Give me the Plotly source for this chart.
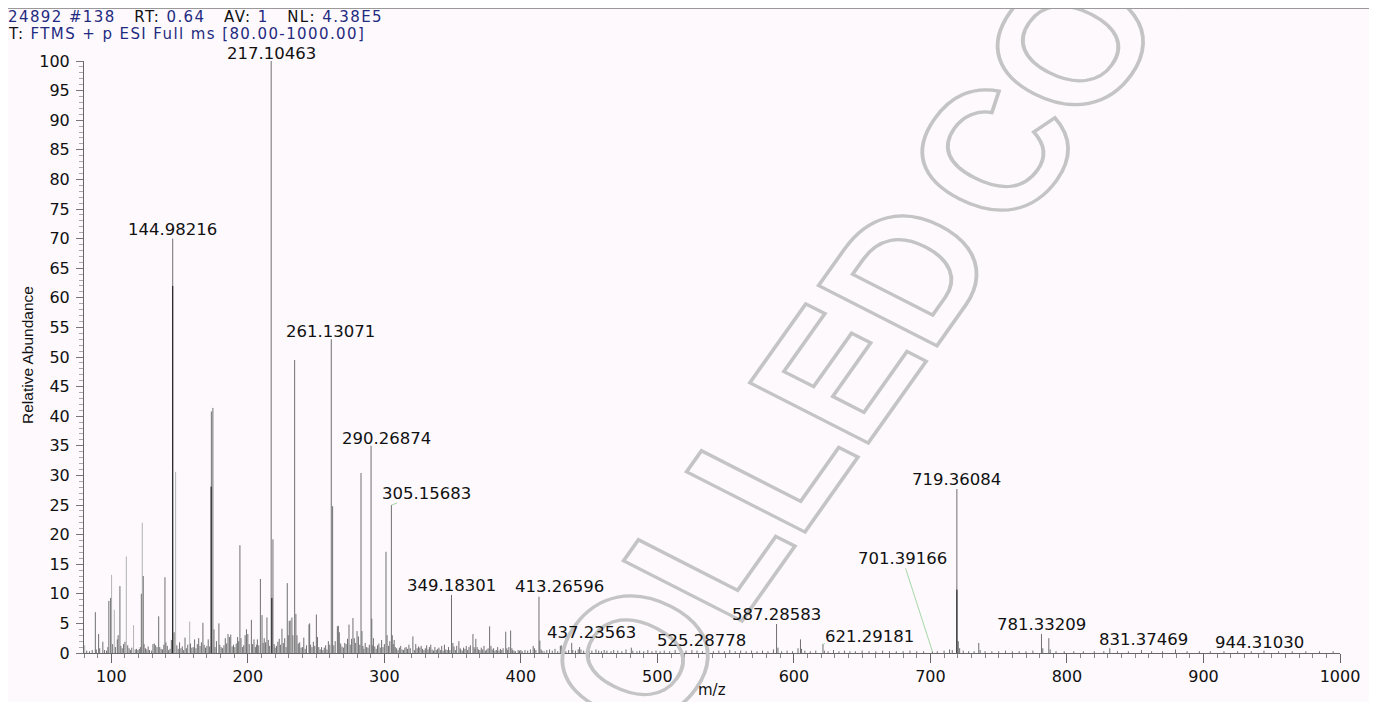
import base64
import plotly.graph_objects as go

# ---------------- data ----------------
labeled_mz = [144.98216, 217.10463, 261.13071, 290.26874, 305.15683, 349.18301,
              413.26596, 437.23563, 525.28778, 587.28583, 621.29181, 701.39166,
              719.36084, 781.33209, 831.37469, 944.31030]
labeled_int = [70.0, 100.0, 53.0, 35.0, 25.0, 9.8, 9.5, 1.7, 0.5, 4.9, 1.5, 0.3,
               27.7, 3.2, 0.8, 0.4]
labeled_text = ["144.98216", "217.10463", "261.13071", "290.26874", "305.15683",
                "349.18301", "413.26596", "437.23563", "525.28778", "587.28583",
                "621.29181", "701.39166", "719.36084", "781.33209", "831.37469",
                "944.31030"]

gray_peaks = [
    (82.0, 0.4), (84.0, 0.3), (86.0, 0.5), (88.3, 6.9), (89.0, 0.6), (90.7, 3.2), (91.5, 0.8),
    (93.8, 1.9), (95.0, 0.5), (96.5, 0.4), (97.5, 1.0), (98.2, 8.8), (99.5, 9.3), (101.0, 1.5),
    (103.0, 1.0), (104.4, 2.3), (105.0, 3.0), (106.3, 11.3), (107.0, 1.2), (108.0, 0.8),
    (109.0, 1.5), (110.0, 1.9), (112.0, 1.3), (113.0, 0.8), (114.0, 0.5), (115.0, 0.9),
    (117.5, 0.6), (118.5, 0.7), (119.5, 0.5), (120.5, 0.7), (121.3, 1.0), (122.0, 10.0),
    (123.4, 13.0), (124.0, 1.5), (125.0, 0.8), (126.0, 0.6), (127.0, 1.1), (128.0, 0.5),
    (129.5, 0.4),
    (130.5, 1.5), (131.5, 1.6), (132.5, 1.3), (133.5, 1.0), (134.7, 6.2), (135.5, 1.0),
    (136.5, 0.7), (137.5, 0.6), (138.5, 1.4), (139.3, 12.8), (140.0, 1.8), (141.0, 1.2),
    (142.0, 0.5), (143.0, 0.7), (144.0, 2.2), (146.0, 3.5), (148.0, 1.3), (149.0, 0.7),
    (150.0, 1.8), (151.0, 0.8), (152.0, 1.1), (153.0, 0.5), (154.0, 2.6), (155.0, 0.8),
    (156.0, 1.4), (158.0, 1.6), (159.0, 0.9), (160.0, 1.0), (161.0, 2.3), (162.0, 0.8),
    (163.0, 1.5), (164.0, 2.5), (165.0, 1.2), (166.0, 1.8), (167.1, 5.1), (168.0, 1.4),
    (169.0, 0.9), (170.0, 1.2), (171.0, 2.3), (172.0, 1.1), (173.3, 40.8), (174.4, 41.4),
    (175.2, 4.0), (176.0, 1.0), (177.0, 2.0), (178.8, 5.0), (179.5, 1.4), (180.5, 1.0),
    (181.5, 0.8), (182.5, 1.3), (183.5, 2.5), (184.5, 1.6), (185.5, 3.2), (186.5, 2.7),
    (187.5, 3.1), (188.5, 1.1), (189.5, 1.4), (190.5, 1.0), (191.5, 1.6), (192.5, 2.7),
    (193.3, 2.0), (194.2, 18.2), (195.0, 2.5), (196.0, 1.0), (197.0, 1.3), (198.0, 3.0),
    (199.0, 4.0), (200.0, 3.2), (201.0, 1.5), (202.6, 5.6), (203.5, 1.5), (204.5, 2.3),
    (205.5, 1.0), (206.3, 1.4), (207.0, 2.3), (208.0, 1.3), (209.2, 12.5), (210.4, 6.4),
    (211.2, 1.7), (212.0, 2.5), (213.0, 1.8), (214.0, 6.0), (215.0, 2.2), (216.0, 1.2),
    (218.4, 19.2), (219.3, 1.5), (220.0, 0.9), (221.0, 1.2), (222.0, 1.9), (223.0, 2.4),
    (224.0, 1.4), (225.0, 4.1), (226.0, 1.7), (227.0, 2.5), (228.0, 1.0), (228.9, 11.8),
    (229.6, 3.0), (230.3, 5.4), (231.0, 5.5), (232.3, 6.0), (233.0, 3.0), (234.3, 49.5),
    (235.2, 6.6), (236.0, 3.0), (237.0, 1.6), (238.0, 1.8), (239.0, 0.9), (240.0, 1.0),
    (241.0, 2.6), (242.0, 0.7), (243.0, 1.3), (244.8, 4.8), (245.3, 5.0), (246.0, 1.4),
    (247.0, 1.0), (248.0, 1.9), (249.0, 1.2), (250.2, 6.5), (251.0, 2.7), (252.0, 1.0),
    (253.0, 0.6), (254.0, 1.0), (255.0, 0.5), (256.0, 0.9), (257.0, 1.3), (258.0, 0.6),
    (259.0, 2.0), (260.0, 1.4), (262.1, 24.8), (263.0, 1.3), (264.0, 2.0), (265.6, 4.5),
    (266.3, 4.6), (267.0, 3.5), (268.0, 1.6), (269.0, 1.1), (270.0, 0.9), (271.0, 1.7),
    (272.0, 1.5), (273.0, 2.4), (274.1, 4.8), (275.0, 1.4), (276.0, 2.4), (277.0, 5.9),
    (278.0, 2.5), (279.0, 1.7), (280.0, 3.7), (281.0, 2.8), (282.0, 1.4), (282.9, 30.4),
    (283.6, 3.7), (284.3, 1.2), (285.0, 0.7), (286.0, 1.7), (287.0, 1.0), (288.0, 0.9),
    (289.0, 1.4), (290.8, 5.8), (291.5, 1.3), (292.0, 2.5), (293.0, 1.1), (294.0, 0.7),
    (295.0, 1.3), (296.0, 1.6), (297.0, 0.9), (298.0, 2.2), (299.0, 1.0), (300.0, 1.5),
    (301.2, 17.1), (302.0, 3.0), (303.0, 1.2), (304.0, 2.0), (305.8, 3.0), (306.5, 1.5),
    (307.2, 2.2), (308.0, 1.0), (309.0, 0.8), (310.0, 0.5), (311.0, 0.9), (312.0, 1.2),
    (313.0, 0.6), (314.0, 0.5), (315.0, 0.9), (316.0, 1.0), (317.0, 0.7), (318.0, 1.4),
    (319.0, 0.8), (320.9, 2.8), (322.0, 0.5), (323.0, 1.5), (324.0, 0.8), (325.0, 1.1),
    (326.0, 0.9), (327.0, 1.2), (328.0, 0.7), (329.0, 0.5),
    (330.0, 0.8), (331.0, 1.3), (332.0, 0.6), (333.0, 1.0), (334.0, 1.4), (335.0, 0.6),
    (336.0, 0.4), (337.0, 1.0), (338.0, 0.5), (339.0, 0.7), (340.0, 0.9), (341.0, 0.5),
    (342.0, 1.2), (343.0, 0.4), (344.0, 1.4), (345.0, 0.6), (346.0, 0.5), (347.0, 1.0),
    (348.0, 0.5), (350.2, 1.7), (351.0, 1.1), (352.0, 0.5), (353.0, 1.2), (354.6, 2.0),
    (355.5, 0.8), (356.0, 0.6), (357.0, 0.4), (358.0, 0.9), (359.0, 0.7), (360.0, 1.2),
    (361.0, 0.5), (362.0, 1.0), (363.0, 1.3), (364.9, 3.2), (365.7, 1.0), (366.4, 0.7),
    (367.0, 2.4), (368.0, 1.0), (369.0, 0.6), (370.0, 0.5), (371.0, 0.9), (372.0, 0.6),
    (373.0, 1.2), (374.0, 0.4), (375.0, 0.6), (376.0, 0.8), (377.1, 4.5), (378.1, 1.2),
    (379.0, 0.6), (380.0, 0.8), (381.0, 0.4), (382.0, 0.5), (383.0, 1.0), (384.0, 0.4),
    (385.0, 0.7), (386.0, 0.5), (387.0, 0.8), (388.9, 3.6), (389.7, 0.8), (390.4, 0.5),
    (391.2, 1.0), (392.5, 3.8), (393.4, 0.8), (394.0, 0.5), (395.0, 0.4), (396.0, 0.3),
    (398.0, 0.5), (399.0, 0.4), (400.0, 0.5), (401.0, 0.3), (403.0, 0.5), (405.0, 0.4),
    (407.0, 0.6), (409.0, 1.2), (410.0, 0.8), (411.0, 0.5), (413.9, 2.1), (414.8, 0.6),
    (415.5, 0.4), (417.0, 0.3), (419.0, 0.5), (421.0, 0.6), (423.0, 0.4), (425.0, 0.7),
    (427.0, 0.3), (428.9, 1.2), (429.6, 1.3), (431.0, 0.4), (433.0, 0.3), (435.0, 0.5),
    (438.0, 0.5), (440.0, 0.4), (442.0, 0.6), (443.0, 1.0), (444.0, 0.6), (446.0, 0.4),
    (448.0, 0.3), (450.0, 0.5), (452.0, 0.4), (455.0, 0.6), (457.0, 0.4), (459.0, 0.3),
    (461.0, 0.5), (463.0, 0.4), (466.0, 0.3), (468.0, 0.5), (471.0, 0.4), (474.0, 0.3),
    (477.0, 0.6), (480.9, 0.9), (482.0, 0.4), (485.0, 0.3), (487.0, 0.4), (490.0, 0.3),
    (493.0, 0.5), (496.0, 0.3), (499.0, 0.4),
    (502.0, 0.3), (505.0, 0.4), (509.0, 0.3), (513.0, 0.5), (517.0, 0.3), (521.0, 0.4),
    (529.0, 0.4), (533.0, 0.3), (537.0, 0.5), (541.0, 0.3), (545.0, 0.4), (549.0, 0.3),
    (553.0, 0.5), (557.0, 0.3), (561.0, 0.4), (565.0, 0.3), (569.0, 0.4), (573.0, 0.3),
    (577.0, 0.4), (581.0, 0.3), (585.0, 0.6), (588.3, 0.9), (591.0, 0.3), (595.0, 0.4),
    (599.0, 0.3), (603.0, 0.8), (604.8, 2.3), (605.6, 0.7), (608.0, 0.4), (612.0, 0.3),
    (616.0, 0.4), (622.3, 0.4), (625.0, 0.3), (629.0, 0.5), (633.0, 0.3), (637.0, 0.4),
    (641.0, 0.3), (645.0, 0.3), (650.0, 0.4), (655.0, 0.3), (660.0, 0.3), (665.0, 0.4),
    (670.0, 0.3), (675.0, 0.3), (680.0, 0.3), (685.0, 0.4), (690.0, 0.3), (695.0, 0.3),
    (705.0, 0.3), (710.0, 0.4), (714.0, 0.6), (716.0, 0.5), (720.4, 2.0), (721.4, 0.8),
    (724.0, 0.4), (728.0, 0.3), (732.0, 0.3), (735.4, 1.7), (736.4, 0.5), (740.0, 0.3),
    (745.0, 0.3), (750.0, 0.3), (755.0, 0.4), (760.0, 0.3), (765.0, 0.3), (770.0, 0.3),
    (775.0, 0.4), (782.3, 0.8), (786.7, 2.5), (787.7, 0.6), (792.0, 0.3), (798.0, 0.3),
    (805.0, 0.3), (812.0, 0.3), (820.0, 0.3), (827.0, 0.3), (837.0, 0.3), (845.0, 0.3),
    (854.6, 0.5), (862.0, 0.3), (870.0, 0.3), (879.5, 0.6), (888.0, 0.3), (897.0, 0.3),
    (905.0, 0.3), (915.0, 0.3), (925.0, 0.3), (935.0, 0.3), (955.0, 0.3), (965.0, 0.3),
    (975.0, 0.3), (985.0, 0.3), (995.0, 0.3),
]
light_peaks = [(80.5, 1.3), (100.2, 13.2), (102.2, 7.3), (111.0, 16.3), (116.3, 4.7),
               (122.7, 22.0), (147.1, 30.6), (157.4, 5.3)]
black_peaks = [(144.99, 62.0), (173.1, 28.1), (217.6, 9.3), (719.4, 10.7)]

x_tickvals = list(range(100, 1001, 100))
y_tickvals = list(range(0, 101, 5))

BLUE = "#1f2b80"
header_line1 = (f"<span style='color:{BLUE}'>24892 #138</span>&nbsp;&nbsp;&nbsp;RT: "
                f"<span style='color:{BLUE}'>0.64</span>&nbsp;&nbsp;&nbsp;AV: "
                f"<span style='color:{BLUE}'>1</span>&nbsp;&nbsp;&nbsp;NL: "
                f"<span style='color:{BLUE}'>4.38E5</span>")
header_line2 = f"T: <span style='color:{BLUE}'>FTMS + p ESI Full ms [80.00-1000.00]</span>"

# ---------------- layout geometry / styles ----------------
OFF = 8                      # page offset of the figure inside the window
W, H = 1377 - OFF, 702 - OFF
ML, MR, MT, MB = 76, 37, 53, 49
PW, PH = W - ML - MR, H - MT - MB
BG = "#fdf9fd"
FONT = "DejaVu Sans"

# label placement (pixels): (dx, dy, leader)
label_offsets = {
    "144.98216": (0, 9, False), "217.10463": (0, 8, False), "261.13071": (-1, 8, False),
    "290.26874": (15, 7, False), "305.15683": (35, -12, True), "349.18301": (0, 9, False),
    "413.26596": (21, -10, True), "437.23563": (20, -10, True), "525.28778": (10, -10, True),
    "587.28583": (0, 9, False), "621.29181": (47, -8, True), "701.39166": (-30, -93, True),
    "719.36084": (0, 10, False), "781.33209": (0, 10, False), "831.37469": (34, -9, True),
    "944.31030": (-4, 8, False),
}


def stick_xy(peaks):
    xs, ys = [], []
    for mz, ab in peaks:
        xs += [mz, mz, None]
        ys += [0, ab, None]
    return xs, ys


fig = go.Figure()
main_peaks = list(zip(labeled_mz, labeled_int)) + gray_peaks
for peaks, color in [(light_peaks, "#b3b3b3"), (main_peaks, "#707070"), (black_peaks, "#111111")]:
    xs, ys = stick_xy(peaks)
    fig.add_trace(go.Scatter(x=xs, y=ys, mode="lines", line=dict(color=color, width=1),
                             hoverinfo="skip", showlegend=False, cliponaxis=False))

annotations = []
for mz, ab, txt in zip(labeled_mz, labeled_int, labeled_text):
    dx, dy, leader = label_offsets[txt]
    if leader:
        annotations.append(dict(x=mz, y=ab, xref="x", yref="y", text=txt, showarrow=True,
                                ax=dx, ay=dy, arrowhead=0, arrowwidth=1, arrowcolor="#a6d8a6",
                                standoff=0, startstandoff=0, borderpad=0,
                                font=dict(family=FONT, size=16.5, color="#111111")))
    else:
        annotations.append(dict(x=mz, y=ab, xref="x", yref="y", text=txt, showarrow=False,
                                xanchor="center", yanchor="middle", xshift=dx, yshift=dy,
                                borderpad=0,
                                font=dict(family=FONT, size=16.5, color="#111111")))


def pxx(p):
    """window pixel x -> paper x"""
    return (p - OFF - ML) / PW


def pxy(p):
    """window pixel y -> paper y"""
    return (H - MB - (p - OFF)) / PH


SPACED = "<span style='letter-spacing:1.4px'>{}</span>"
annotations.append(dict(x=pxx(7), y=pxy(17), xref="paper", yref="paper",
                        text=SPACED.format(header_line1), borderpad=0,
                        showarrow=False, xanchor="left", yanchor="middle",
                        font=dict(family=FONT, size=15, color="#111111")))
annotations.append(dict(x=pxx(7), y=pxy(34.5), xref="paper", yref="paper",
                        text=SPACED.format(header_line2), borderpad=0,
                        showarrow=False, xanchor="left", yanchor="middle",
                        font=dict(family=FONT, size=15, color="#111111")))
annotations.append(dict(x=pxx(27), y=pxy(355), xref="paper", yref="paper",
                        text="Relative Abundance", textangle=-90, showarrow=False,
                        xanchor="center", yanchor="middle",
                        font=dict(family="Liberation Sans", size=15.5, color="#111111")))
annotations.append(dict(x=pxx(712), y=pxy(690), xref="paper", yref="paper",
                        text="m/z", showarrow=False, xanchor="center", yanchor="middle",
                        font=dict(family=FONT, size=15, color="#111111")))

# watermark as outlined svg text (coordinates in window pixels through the viewBox)
svg = (f"<svg xmlns='http://www.w3.org/2000/svg' width='{W}' height='{H}' "
       f"viewBox='{OFF} {OFF} {W} {H}'>"
       "<text transform='translate(738 512) scale(1.18 1) rotate(-59)' text-anchor='middle' "
       "dominant-baseline='central' font-family='Liberation Sans, Arial, sans-serif' "
       "font-weight='bold' font-size='170' word-spacing='-30' fill='none' stroke='#c4c4c4' "
       "stroke-width='3.2'>CONTROLLED COPY</text></svg>")
src = "data:image/svg+xml;base64," + base64.b64encode(svg.encode()).decode()

fig.update_layout(
    width=W, height=H,
    margin=dict(l=ML, r=MR, t=MT, b=MB, autoexpand=False),
    paper_bgcolor=BG, plot_bgcolor=BG,
    showlegend=False,
    annotations=annotations,
    images=[dict(source=src, xref="paper", yref="paper", x=-ML / PW, y=1 + MT / PH,
                 sizex=W / PW, sizey=H / PH, xanchor="left", yanchor="top",
                 sizing="stretch", layer="above")],
    shapes=[dict(type="line", xref="paper", yref="paper", x0=-ML / PW, x1=(W - ML) / PW,
                 y0=1 + (MT - 0.5) / PH, y1=1 + (MT - 0.5) / PH,
                 line=dict(color="#9a9a9a", width=1))],
    xaxis=dict(range=[80, 1000], tickmode="array", tickvals=x_tickvals, automargin=False,
               ticks="outside", ticklen=9, tickcolor="#666666", tickwidth=1,
               showline=True, linecolor="#666666", linewidth=1, showgrid=False, zeroline=False,
               minor=dict(dtick=10, tick0=0, ticks="outside", ticklen=4, tickcolor="#888888",
                          showgrid=False),
               tickfont=dict(family=FONT, size=16, color="#111111")),
    yaxis=dict(range=[0, 100], tickmode="array", tickvals=y_tickvals, automargin=False,
               ticks="outside", ticklen=7, tickcolor="#777777", tickwidth=1,
               showline=True, linecolor="#666666", linewidth=1, showgrid=False, zeroline=False,
               minor=dict(dtick=1, tick0=0, ticks="outside", ticklen=4, tickcolor="#aaaaaa",
                          showgrid=False),
               tickfont=dict(family=FONT, size=16, color="#111111"),
               ticklabelstandoff=3),
)

fig.write_html("out.html")
